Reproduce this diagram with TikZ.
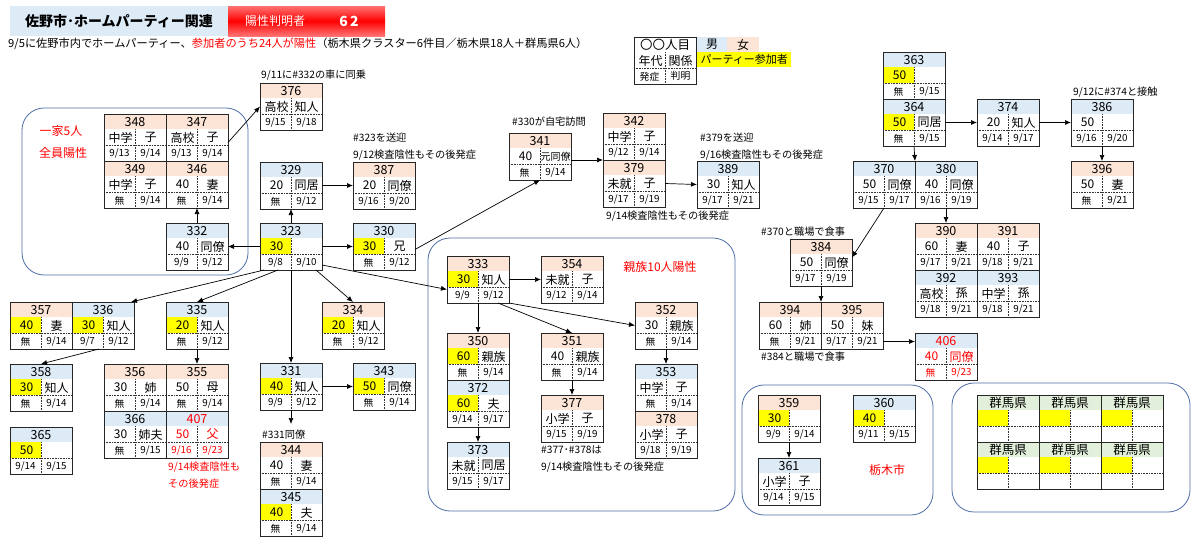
\documentclass[tikz,border=0pt]{standalone}
\usepackage{fontspec}
\setmainfont{Noto Sans CJK JP}
\usetikzlibrary{arrows.meta}

\definecolor{mbg}{HTML}{DDEBF7}
\definecolor{fbg}{HTML}{FCE4D6}
\definecolor{ybg}{HTML}{FFFF00}
\definecolor{gbg}{HTML}{E2EFDA}
\definecolor{grpline}{HTML}{4F6EA8}

\newcommand{\cardtxt}{black}
\tikzset{
	cardbox/.style={draw=black!85,line width=1pt,minimum width=62pt,minimum height=47pt,inner sep=0pt,outer sep=0pt},
	numtxt/.style={font=\fontsize{12.5}{13}\selectfont,inner sep=0pt,text=\cardtxt},
	bigtxt/.style={font=\fontsize{12}{12}\selectfont,inner sep=0pt,text=\cardtxt},
	datetxt/.style={font=\fontsize{9.8}{10}\selectfont,inner sep=0pt,text=\cardtxt},
	dotline/.style={black!80,line width=0.6pt,dash pattern=on 0.8pt off 0.8pt},
	arr/.style={-{Latex[length=6pt,width=5pt]},line width=0.7pt},
	note/.style={font=\fontsize{10.2}{11}\selectfont,anchor=west,inner sep=0pt},
	redlbl/.style={font=\fontsize{12}{12}\selectfont,text=red,inner sep=0pt},
	grp/.style={draw=grpline,line width=0.8pt,rounded corners=22pt}
}

% one case: name, top left, header fill, number, age fill, age, relation, onset, confirmed
\newcommand{\casecard}[9]{%
	\begin{scope}[shift={(#2)}]
		\fill[#3] (0,0) rectangle (62,15);
		\fill[#5] (0,15) rectangle (31,31);
		\draw[dotline] (0,31) -- (62,31);
		\draw[dotline] (31,15) -- (31,47);
		\node[numtxt] (#1-no) at (31,7.8) {#4};
		\node[bigtxt] (#1-age) at (16.5,23.5) {#6};
		\node[bigtxt] (#1-rel) at (46.5,23.5) {#7};
		\node[datetxt] (#1-on) at (15.5,39.3) {#8};
		\node[datetxt] (#1-pos) at (46.5,39.3) {#9};
		\node[cardbox] (#1) at (31,23.5) {};
	\end{scope}}

\begin{document}
\begin{tikzpicture}[x=1pt,y=-1pt]
	\useasboundingbox (0,0) rectangle (1200,547);
	\fill[white] (0,0) rectangle (1200,547);

	% title
	\fill[mbg] (10,6) rectangle (228,36);
	\node[font=\bfseries\fontsize{14}{14}\selectfont] (title) at (119,21) {佐野市･ホームパーティー関連};
	\shade[top color=red!55,bottom color=red!55,middle color=red] (228,6) rectangle (385,36);
	\node[text=white,font=\fontsize{12}{12}\selectfont] (hdrlbl) at (275,21) {陽性判明者};
	\node[text=white,font=\bfseries\fontsize{14}{14}\selectfont] (hdrnum) at (349,21) {6\,2};
	\node[anchor=west,inner sep=0pt,font=\fontsize{11.2}{11}\selectfont] (sub) at (8,44) {9/5に佐野市内でホームパーティー、\textcolor{red}{参加者のうち24人が陽性}（栃木県クラスター6件目／栃木県18人＋群馬県6人）};

	% legend
	\casecard{leg}{634,37}{white}{〇〇人目}{white}{年代}{関係}{発症}{判明}
	\node[fill=mbg,minimum width=30pt,minimum height=15pt,inner sep=0pt,anchor=north west,font=\fontsize{12}{12}\selectfont] (legm) at (697,37) {男};
	\node[fill=fbg,minimum width=32pt,minimum height=15pt,inner sep=0pt,anchor=north west,font=\fontsize{12}{12}\selectfont] (legf) at (727,37) {女};
	\node[fill=ybg,minimum width=94pt,minimum height=15pt,inner sep=0pt,anchor=north west,font=\fontsize{11}{11}\selectfont] (legy) at (697,52) {パーティー参加者};

	% groups
	\draw[grp] (22,108) rectangle (248,275);
	\draw[grp] (428,238) rectangle (735,511);
	\draw[grp] (742,385) rectangle (933,515);
	\draw[grp] (952,383) rectangle (1190,512);
	\node[redlbl] (fam5a) at (61,131) {一家5人};
	\node[redlbl] (fam5b) at (63,153) {全員陽性};
	\node[redlbl] (fam10) at (660,267) {親族10人陽性};
	\node[redlbl] (tcity) at (887,470) {栃木市};

	% family of 5
	\casecard{c348}{104,114}{fbg}{348}{white}{中学}{子}{9/13}{9/14}
	\casecard{c347}{166,114}{fbg}{347}{white}{高校}{子}{9/13}{9/14}
	\casecard{c349}{104,161}{fbg}{349}{white}{中学}{子}{無}{9/14}
	\casecard{c346}{166,161}{fbg}{346}{white}{40}{妻}{無}{9/14}
	\casecard{c332}{166,223}{mbg}{332}{white}{40}{同僚}{9/9}{9/12}

	% around 323
	\casecard{c376}{260,83}{fbg}{376}{white}{高校}{知人}{9/15}{9/18}
	\casecard{c329}{260,162}{mbg}{329}{white}{20}{同居}{無}{9/12}
	\casecard{c387}{353,162}{fbg}{387}{white}{20}{同僚}{9/16}{9/20}
	\casecard{c323}{260,223}{mbg}{323}{ybg}{30}{}{9/8}{9/10}
	\casecard{c330}{353,223}{mbg}{330}{ybg}{30}{兄}{無}{9/12}
	\casecard{c341}{509,133}{fbg}{341}{white}{40}{\fontsize{10}{10}\selectfont 元同僚}{無}{9/14}
	\casecard{c342}{603,113}{fbg}{342}{white}{中学}{子}{9/12}{9/14}
	\casecard{c379}{603,160}{fbg}{379}{white}{未就}{子}{9/17}{9/19}
	\casecard{c389}{697,161}{mbg}{389}{white}{30}{知人}{9/17}{9/21}

	% lower left
	\casecard{c357}{10,302}{fbg}{357}{ybg}{40}{妻}{無}{9/14}
	\casecard{c336}{72,302}{mbg}{336}{ybg}{30}{知人}{9/7}{9/12}
	\casecard{c335}{166,302}{mbg}{335}{ybg}{20}{知人}{無}{9/12}
	\casecard{c334}{322,302}{fbg}{334}{ybg}{20}{知人}{無}{9/12}
	\casecard{c358}{10,364}{mbg}{358}{ybg}{30}{知人}{無}{9/14}
	\casecard{c365}{10,427}{mbg}{365}{ybg}{50}{}{9/14}{9/15}
	\casecard{c356}{104,364}{fbg}{356}{white}{30}{姉}{無}{9/14}
	\casecard{c355}{166,364}{fbg}{355}{white}{50}{母}{無}{9/14}
	\casecard{c366}{104,411}{mbg}{366}{white}{30}{姉夫}{無}{9/15}
	{\renewcommand{\cardtxt}{red}\casecard{c407}{166,411}{mbg}{407}{white}{50}{父}{9/16}{9/23}}
	\casecard{c331}{260,363}{mbg}{331}{ybg}{40}{知人}{9/9}{9/12}
	\casecard{c343}{353,363}{mbg}{343}{ybg}{50}{同僚}{無}{9/14}
	\casecard{c344}{260,442}{fbg}{344}{white}{40}{妻}{無}{9/14}
	\casecard{c345}{260,489}{mbg}{345}{ybg}{40}{夫}{無}{9/14}

	% relatives of 333
	\casecard{c333}{447,256}{fbg}{333}{ybg}{30}{知人}{9/9}{9/12}
	\casecard{c354}{541,256}{fbg}{354}{white}{未就}{子}{9/12}{9/14}
	\casecard{c350}{447,333}{fbg}{350}{ybg}{60}{親族}{無}{9/14}
	\casecard{c372}{447,380}{mbg}{372}{ybg}{60}{夫}{9/14}{9/17}
	\casecard{c373}{447,442}{mbg}{373}{white}{未就}{同居}{9/15}{9/17}
	\casecard{c351}{541,333}{fbg}{351}{white}{40}{親族}{無}{9/14}
	\casecard{c377}{541,395}{fbg}{377}{white}{小学}{子}{9/15}{9/19}
	\casecard{c352}{635,302}{fbg}{352}{white}{30}{親族}{無}{9/14}
	\casecard{c353}{635,364}{mbg}{353}{white}{中学}{子}{無}{9/14}
	\casecard{c378}{635,411}{fbg}{378}{white}{小学}{子}{9/18}{9/19}

	% right side
	\casecard{c363}{883,52}{mbg}{363}{ybg}{50}{}{無}{9/15}
	\casecard{c364}{883,99}{mbg}{364}{ybg}{50}{同居}{無}{9/15}
	\casecard{c374}{977,99}{mbg}{374}{white}{20}{知人}{9/14}{9/17}
	\casecard{c386}{1071,99}{mbg}{386}{white}{50}{}{9/16}{9/20}
	\casecard{c396}{1071,161}{fbg}{396}{white}{50}{妻}{無}{9/21}
	\casecard{c370}{853,161}{mbg}{370}{white}{50}{同僚}{9/15}{9/17}
	\casecard{c380}{915,161}{mbg}{380}{white}{40}{同僚}{9/16}{9/19}
	\casecard{c390}{915,223}{fbg}{390}{white}{60}{妻}{9/17}{9/21}
	\casecard{c391}{977,223}{fbg}{391}{white}{40}{子}{9/18}{9/21}
	\casecard{c392}{915,270}{mbg}{392}{white}{高校}{孫}{9/18}{9/21}
	\casecard{c393}{977,270}{mbg}{393}{white}{中学}{孫}{9/18}{9/21}
	\casecard{c384}{790,239}{fbg}{384}{white}{50}{同僚}{9/17}{9/19}
	\casecard{c394}{759,302}{fbg}{394}{white}{60}{姉}{無}{9/21}
	\casecard{c395}{821,302}{fbg}{395}{white}{50}{妹}{9/17}{9/21}
	{\renewcommand{\cardtxt}{red}\casecard{c406}{915,333}{mbg}{406}{white}{40}{同僚}{無}{9/23}}

	% Tochigi city
	\casecard{c359}{758,395}{fbg}{359}{ybg}{30}{}{9/9}{9/14}
	\casecard{c360}{853,395}{mbg}{360}{ybg}{40}{}{9/11}{9/15}
	\casecard{c361}{758,458}{mbg}{361}{white}{小学}{子}{9/14}{9/15}

	% Gunma
	\casecard{g1}{977,395}{gbg}{群馬県}{ybg}{}{}{}{}
	\casecard{g2}{1039,395}{gbg}{群馬県}{ybg}{}{}{}{}
	\casecard{g3}{1101,395}{gbg}{群馬県}{ybg}{}{}{}{}
	\casecard{g4}{977,442}{gbg}{群馬県}{ybg}{}{}{}{}
	\casecard{g5}{1039,442}{gbg}{群馬県}{ybg}{}{}{}{}
	\casecard{g6}{1101,442}{gbg}{群馬県}{ybg}{}{}{}{}

	% notes
	\node[note] (n376) at (261,75) {9/11に\#332の車に同乗};
	\node[note] (n387a) at (353,138) {\#323を送迎};
	\node[note] (n387b) at (353,155) {9/12検査陰性もその後発症};
	\node[note] (n341) at (512,122) {\#330が自宅訪問};
	\node[note] (n379) at (606,216) {9/14検査陰性もその後発症};
	\node[note] (n389a) at (700,138) {\#379を送迎};
	\node[note] (n389b) at (700,155) {9/16検査陰性もその後発症};
	\node[note] (n386) at (1073,92) {9/12に\#374と接触};
	\node[note] (n384) at (761,232) {\#370と職場で食事};
	\node[note] (n394) at (761,357) {\#384と職場で食事};
	\node[note] (n344) at (262,435) {\#331同僚};
	\node[note] (n377a) at (541,450) {\#377･\#378は};
	\node[note] (n377b) at (541,467) {9/14検査陰性もその後発症};
	\node[note,text=red] (n407a) at (168,467) {9/14検査陰性も};
	\node[note,text=red] (n407b) at (168,484) {その後発症};

	% links
	\coordinate (c331x) at (291,424);
	\draw[arr] (c332.north) -- (c346.south);
	\draw[arr] ([yshift=-5pt]c347.east) -- (c376.west);
	\draw[arr] (c323.west) -- (c332.east);
	\draw[arr] (c323.north) -- (c329.south);
	\draw[arr] (c323.east) -- (c330.west);
	\draw[arr] (c329.east) -- (c387.west);
	\draw[arr] ([yshift=-3pt]c330.east) -- (c341.south);
	\draw[arr] (c341.east |- c342.south west) -- (c342.south west);
	\draw[arr] (c379.east) -- (c389.west);
	\draw[arr] ([xshift=4pt]c323.south west) -- ([xshift=-3pt]c336.north east);
	\draw[arr] ([xshift=18pt]c323.south west) -- (c335.north);
	\draw[arr] (c323.south) -- (c331.north);
	\draw[arr] ([xshift=-6pt]c323.south east) -- (c334.north);
	\draw[arr] ([yshift=5pt]c323.south east) -- ([yshift=-10pt]c333.west);
	\draw[arr] ([xshift=-4pt]c336.south) -- (c358.north);
	\draw[arr] (c335.south) -- (c355.north);
	\draw[arr] (c331.east) -- (c343.west);
	\draw[arr] (c331.south) -- (c331x);
	\draw[arr] (c333.east) -- (c354.west);
	\draw[arr] (c333.south) -- (c350.north);
	\draw[arr] (c372.south) -- (c373.north);
	\draw[arr] ([xshift=20pt]c333.south) -- (c351.north);
	\draw[arr] (c333.south east) -- (c352.west);
	\draw[arr] (c352.south) -- (c353.north);
	\draw[arr] (c351.south) -- (c377.north);
	\draw[arr] (c364.east) -- (c374.west);
	\draw[arr] (c374.east) -- (c386.west);
	\draw[arr] (c386.south) -- (c396.north);
	\draw[arr] (c364.south) -- (c380.north west);
	\draw[arr] (c380.south) -- (c390.north);
	\draw[arr] (c370.south) -- ([yshift=5pt]c384.east);
	\draw[arr] (c384.south) -- (c395.north west);
	\draw[arr] ([yshift=-16pt]c395.east) -- ([yshift=-16pt]c395.east -| c406.west);
	\draw[arr] (c359.south) -- (c361.north);
\end{tikzpicture}
\end{document}
